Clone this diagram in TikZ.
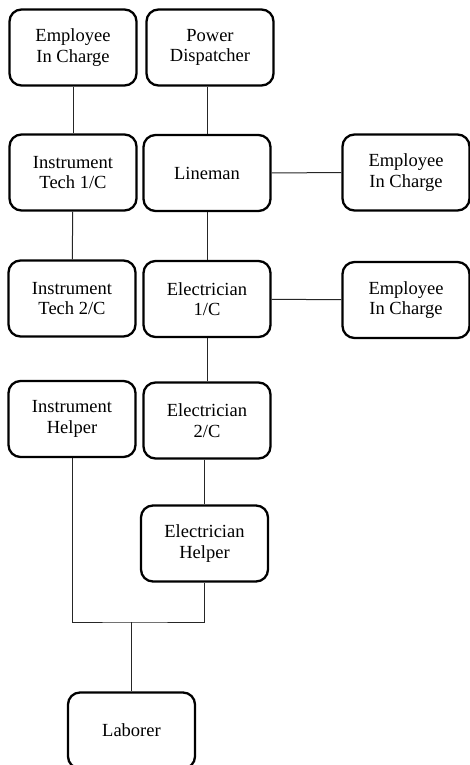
\documentclass[tikz,border=0pt]{standalone}
\usepackage{fontspec}
\setmainfont{Liberation Serif}
\tikzstyle{job}=[draw,line width=2.3pt,rounded corners=12pt,minimum width=127pt,minimum height=76pt,align=center,inner sep=2pt,font=\fontsize{18.5}{20.5}\selectfont]
\tikzstyle{link}=[line width=1pt,black!85]

\begin{document}
\begin{tikzpicture}[x=1pt,y=1pt]
\useasboundingbox (0,0) rectangle (470,-765);
\clip (0,0) rectangle (470,-765);
\node[job] (eicA) at (73, -47.5) {Employee\\In Charge};
\node[job] (pd) at (210, -47.5) {Power\\Dispatcher};
\node[job] (itA) at (73, -172.5) {Instrument\\Tech 1/C};
\node[job] (lm) at (207, -173) {Lineman};
\node[job] (eicB) at (406, -172.5) {Employee\\In Charge};
\node[job] (itB) at (72, -298.5) {Instrument\\Tech 2/C};
\node[job] (elA) at (207, -299) {Electrician\\1/C};
\node[job] (eicC) at (406, -300) {Employee\\In Charge};
\node[job] (ih) at (72, -419) {Instrument\\Helper};
\node[job] (elB) at (207, -420.5) {Electrician\\2/C};
\node[job] (eh) at (204.5, -543.5) {Electrician\\Helper};
\node[job] (lab) at (131.5, -730.5) {Laborer};
\coordinate (join) at (131.5, -622);

\draw[link] (eicA) -- (itA);
\draw[link] (itA) -- (itB);
\draw[link] (pd.south -| lm) -- (lm);
\draw[link] (lm) -- (elA);
\draw[link] (elA) -- (elB);
\draw[link] (elB.south -| eh) -- (eh);
\draw[link] (lm) -- (eicB);
\draw[link] (elA) -- (eicC);
\draw[link] (ih) |- (join) -| (eh);
\draw[link] (join) -- (lab);
\end{tikzpicture}
\end{document}
